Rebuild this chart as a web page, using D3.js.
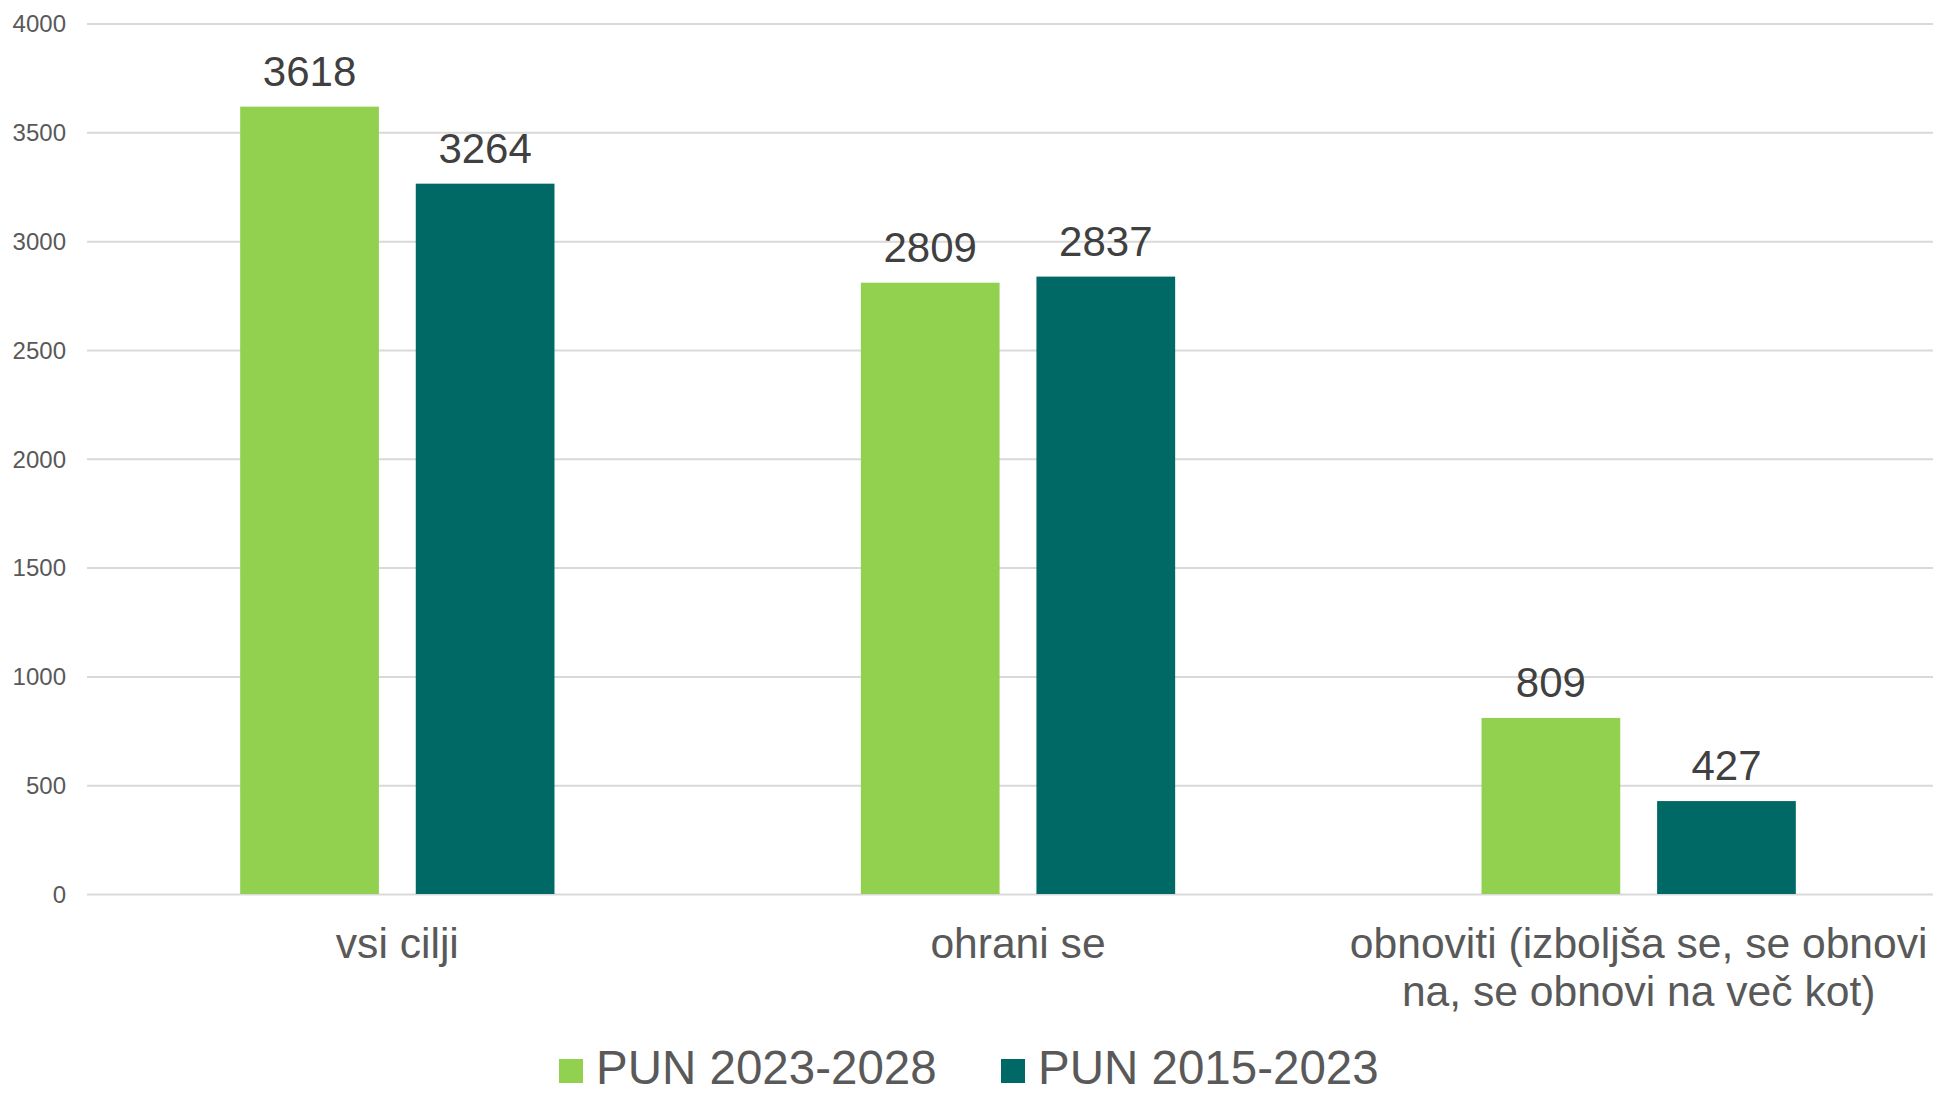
<!DOCTYPE html>
<html>
<head>
<meta charset="utf-8">
<script src="https://cdn.jsdelivr.net/npm/d3@7"></script>
<style>
  html, body { margin: 0; padding: 0; background: #fff; }
  svg { display: block; font-family: "Liberation Sans", Arial, sans-serif; }
</style>
</head>
<body>
<svg id="chart" width="1933" height="1095"></svg>
<script>
const categories = [
  ["vsi cilji"],
  ["ohrani se"],
  ["obnoviti (izboljša se, se obnovi", "na, se obnovi na več kot)"]
];
const seriesNames = ["PUN 2023-2028", "PUN 2015-2023"];
const series2023_2028 = [3618, 2809, 809];
const series2015_2023 = [3264, 2837, 427];
const yTicks = [0, 500, 1000, 1500, 2000, 2500, 3000, 3500, 4000];
const colors = ["#92D050", "#006966"];

(function () {
const svg = d3.select("#chart");
const W = 1933;
const plotLeft = 87, plotRight = 1949, plotTop = 23.5, plotBottom = 894;

const y = d3.scaleLinear().domain([0, 4000]).range([plotBottom, plotTop]);
const x0 = d3.scaleBand().domain(d3.range(categories.length)).range([plotLeft, plotRight])
  .paddingInner(0.4936).paddingOuter(0.2468);
const x1 = d3.scaleBand().domain(d3.range(seriesNames.length)).range([0, x0.bandwidth()])
  .paddingInner(0.21).paddingOuter(0);

// gridlines
const yAxis = d3.axisLeft(y).tickValues(yTicks).tickSize(-(W - plotLeft)).tickFormat(d => d);
const gAxis = svg.append("g").attr("transform", `translate(${plotLeft},0)`).call(yAxis);
gAxis.select(".domain").remove();
gAxis.selectAll(".tick line").attr("stroke", "#d9d9d9").attr("stroke-width", 2);
gAxis.selectAll(".tick text")
  .attr("x", -21).attr("dy", "0.35em")
  .attr("fill", "#595959").style("font-size", "24px")
  .style("font-family", "'Liberation Sans', Arial, sans-serif");

const data = categories.map((c, i) => ({ i, values: [series2023_2028[i], series2015_2023[i]] }));

const groups = svg.append("g").selectAll("g").data(data).join("g")
  .attr("transform", d => `translate(${x0(d.i)},0)`);

groups.selectAll("rect").data(d => d.values.map((v, s) => ({ v, s }))).join("rect")
  .attr("x", d => x1(d.s))
  .attr("width", x1.bandwidth())
  .attr("y", d => y(d.v))
  .attr("height", d => y(0) - y(d.v))
  .attr("fill", d => colors[d.s]);

groups.selectAll("text.val").data(d => d.values.map((v, s) => ({ v, s }))).join("text")
  .attr("class", "val")
  .attr("x", d => x1(d.s) + x1.bandwidth() / 2)
  .attr("y", d => y(d.v) - 21)
  .attr("text-anchor", "middle")
  .attr("fill", "#404040")
  .style("font-size", "42px")
  .text(d => d.v);

// category labels
const catG = svg.append("g");
categories.forEach((lines, i) => {
  const t = catG.append("text")
    .attr("text-anchor", "middle")
    .attr("fill", "#595959")
    .style("font-size", "42.6px");
  lines.forEach((ln, k) => {
    t.append("tspan")
      .attr("x", x0(i) + x0.bandwidth() / 2)
      .attr("y", 958 + k * 48)
      .text(ln);
  });
});

// legend
const legendX = [559, 1001];
const leg = svg.append("g");
seriesNames.forEach((name, s) => {
  leg.append("rect").attr("x", legendX[s]).attr("y", 1059).attr("width", 24).attr("height", 24)
    .attr("fill", colors[s]);
  leg.append("text").attr("x", legendX[s] + 37).attr("y", 1084)
    .attr("fill", "#595959").style("font-size", "47.5px").text(name);
});
})();
</script>
</body>
</html>
